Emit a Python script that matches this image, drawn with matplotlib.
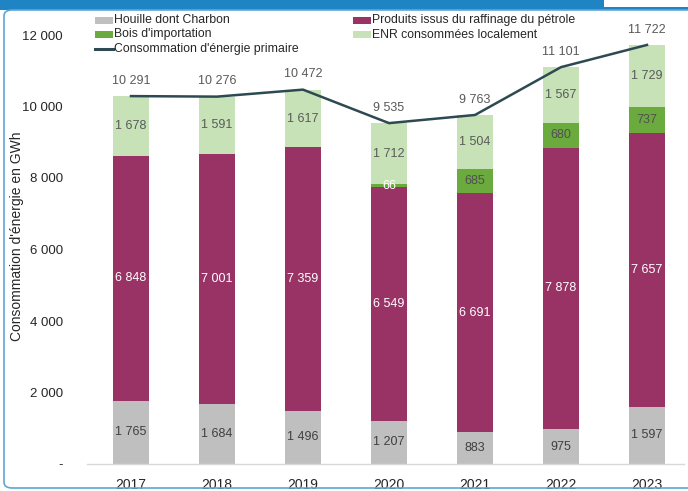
import matplotlib
matplotlib.use("Agg")
import matplotlib.pyplot as plt
from matplotlib.patches import Rectangle, FancyBboxPatch
from matplotlib.lines import Line2D
import numpy as np

plt.rcParams['font.family'] = ['Liberation Sans', 'DejaVu Sans']

years = ["2017", "2018", "2019", "2020", "2021", "2022", "2023"]
houille = [1765, 1684, 1496, 1207, 883, 975, 1597]
petrole = [6848, 7001, 7359, 6549, 6691, 7878, 7657]
bois = [0, 0, 0, 66, 685, 680, 737]
enr = [1678, 1591, 1617, 1712, 1504, 1567, 1729]
total = [10291, 10276, 10472, 9535, 9763, 11101, 11722]

series_names = ["Houille dont Charbon", "Produits issus du raffinage du pétrole",
                "Bois d'importation", "ENR consommées localement"]
line_name = "Consommation d'énergie primaire"
ylabel = "Consommation d'énergie en GWh"
yticks = [0, 2000, 4000, 6000, 8000, 10000, 12000]
ytick_labels = ["-", "2 000", "4 000", "6 000", "8 000", "10 000", "12 000"]

colors = ["#BFBFBF", "#993366", "#6BAA3C", "#C6E2B6"]
label_colors = ["#404040", "white", "#505050", "#5A5A5A"]
line_color = "#2D4A52"

def fmt(v):
    return f"{v:,}".replace(",", " ")

W, H = 688, 491
fig = plt.figure(figsize=(W / 100, H / 100), dpi=100)

def fx(px):
    return px / W

def fy(py):
    return 1 - py / H

# frame decorations (banner + border)
fig.patches.append(Rectangle((0, fy(10)), 1, 10 / H, transform=fig.transFigure,
                             facecolor="#1E84C4", edgecolor="none", zorder=0))
fig.patches.append(Rectangle((fx(604), fy(7)), 84 / W, 7 / H, transform=fig.transFigure,
                             facecolor="white", edgecolor="none", zorder=1))
fig.patches.append(FancyBboxPatch((fx(4), fy(488)), 700 / W, (488 - 10) / H,
                                  boxstyle="round,pad=0,rounding_size=0.012",
                                  transform=fig.transFigure, facecolor="none",
                                  edgecolor="#5FA6D6", linewidth=1.2, zorder=1))

ax = fig.add_axes([fx(87), fy(464), (684 - 87) / W, (464 - 12) / H])
ax.set_facecolor("none")

x = np.arange(len(years))
bw = 0.42
data = [houille, petrole, bois, enr]
bottom = np.zeros(len(years))
for vals, c, lc, name in zip(data, colors, label_colors, series_names):
    vals = np.array(vals, dtype=float)
    ax.bar(x, vals, bw, bottom=bottom, color=c, label=name, zorder=2)
    for i, v in enumerate(vals):
        if v > 0:
            col = lc
            if c == colors[2] and v < 200:
                col = "white"
            ax.text(x[i], bottom[i] + v / 2, fmt(int(v)), ha="center", va="center",
                    fontsize=9, color=col, zorder=4)
    bottom += vals

ax.plot(x, total, color=line_color, linewidth=1.8, zorder=3, label=line_name)
for i, t in enumerate(total):
    ax.annotate(fmt(t), (x[i], t), xytext=(0, 11), textcoords="offset points",
                ha="center", va="center", fontsize=9, color="#595959", zorder=4)

ax.set_xlim((87 - 131) / 86, (684 - 131) / 86)
ax.set_ylim(0, (464 - 12) / ((464 - 35) / 12000))
ax.set_xticks(x)
ax.set_xticklabels(years, fontsize=10, color="#262626")
ax.set_yticks(yticks)
ax.set_yticklabels(ytick_labels, fontsize=9.5, color="#262626")
ax.tick_params(axis="both", length=0)
ax.tick_params(axis="y", pad=17.5)
ax.tick_params(axis="x", pad=10)
for s in ["top", "right", "left"]:
    ax.spines[s].set_visible(False)
ax.spines["bottom"].set_color("#D9D9D9")
ax.spines["bottom"].set_linewidth(1.0)

fig.text(fx(17), fy(236), ylabel, rotation=90, ha="center", va="center",
         fontsize=10, color="#262626")

# legend drawn manually: (kind, color, label, x_px, y_px)
legend_items = [
    ("patch", colors[0], series_names[0], 95, 20.5),
    ("patch", colors[2], series_names[2], 95, 34.5),
    ("line", line_color, line_name, 95, 49),
    ("patch", colors[1], series_names[1], 353, 20.5),
    ("patch", colors[3], series_names[3], 353, 34.5),
]
for kind, c, lab, px, py in legend_items:
    if kind == "patch":
        fig.patches.append(Rectangle((fx(px), fy(py + 3.5)), 18 / W, 7 / H,
                                     transform=fig.transFigure, facecolor=c,
                                     edgecolor="none", zorder=5))
    else:
        fig.lines.append(Line2D([fx(px), fx(px + 18)], [fy(py), fy(py)],
                                transform=fig.transFigure, color=c, linewidth=2.2,
                                zorder=5))
    fig.text(fx(px + 19.5), fy(py), lab, ha="left", va="center", fontsize=8.8,
             color="#262626", zorder=6)

fig.savefig("out.png", dpi=100)
